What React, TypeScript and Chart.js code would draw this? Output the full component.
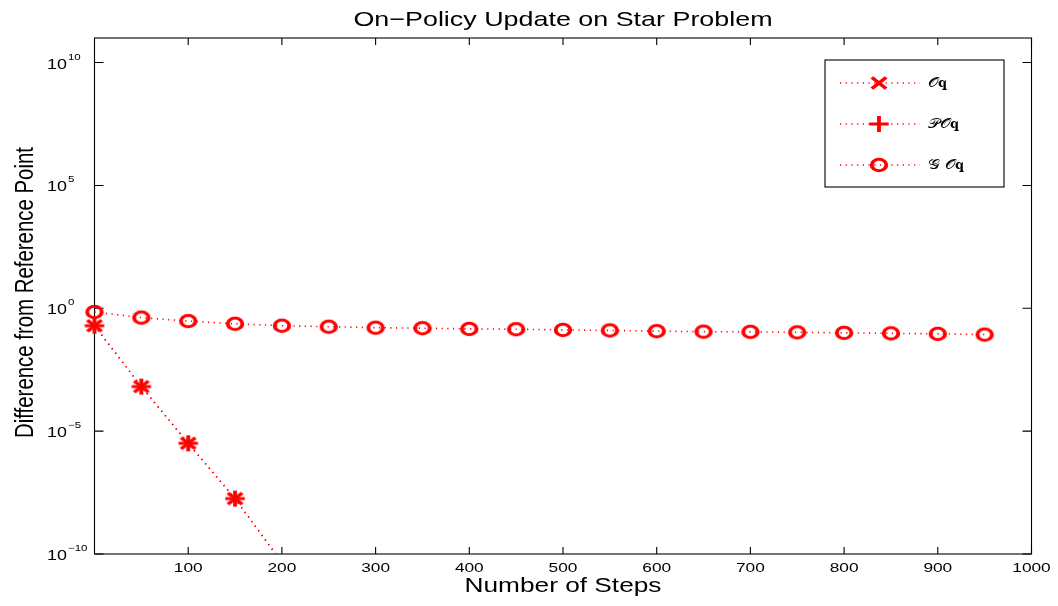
import React, { useEffect, useRef } from 'react';
import { Chart, registerables } from 'chart.js';

Chart.register(...registerables);

// ---------- data ----------
const steps = [0, 50, 100, 150, 200, 250, 300, 350, 400, 450, 500, 550, 600, 650, 700, 750, 800, 850, 900, 950];
const oqSteps = [0, 50, 100, 150, 200];
const oqValues = [0.195, 6.5e-4, 3.2e-6, 1.8e-8, 4.5e-11];
const poqValues = [0.195, 6.5e-4, 3.2e-6, 1.8e-8, 4.5e-11];
const goqValues = [0.708, 0.417, 0.302, 0.234, 0.195, 0.178, 0.162, 0.155, 0.145, 0.141, 0.132, 0.126, 0.117, 0.112, 0.11, 0.105, 0.1, 0.0955, 0.0912, 0.0851];
const seriesLabels = ['𝒪𝐪', '𝒫𝒪𝐪', '𝒢 𝒪𝐪'];
const chartTitle = 'On−Policy Update on Star Problem';
const xAxisTitle = 'Number of Steps';
const yAxisTitle = 'Difference from Reference Point';
const xTickValues = [100, 200, 300, 400, 500, 600, 700, 800, 900, 1000];
const xTickLabels = ['100', '200', '300', '400', '500', '600', '700', '800', '900', '1000'];
const yTickValues = [1e-10, 1e-5, 1, 1e5, 1e10];
const yTickExponents = ['−10', '−5', '0', '5', '10'];

const X_MIN = 0;
const X_MAX = 1000;
const Y_MIN = 1e-10;
const Y_MAX = 1e11;

// ---------- styling ----------
const RED = '#ff0000';
const SX = 1.28; // horizontal stretch of the reference rendering
const FONT = '"Liberation Sans", Arial, Helvetica, sans-serif';
const MATH_FONT = '"DejaVu Serif", "DejaVu Sans", serif';

type MarkerKind = 'circle' | 'x' | 'plus';

function makeMarker(kind: MarkerKind): HTMLCanvasElement {
  const c = document.createElement('canvas');
  c.width = 28;
  c.height = 22;
  const g = c.getContext('2d')!;
  g.translate(c.width / 2, c.height / 2);
  g.scale(SX, 1);
  g.strokeStyle = RED;
  g.lineWidth = 3;
  g.beginPath();
  if (kind === 'circle') {
    g.arc(0, 0, 5.7, 0, Math.PI * 2);
  } else if (kind === 'x') {
    const r = 5.6;
    g.moveTo(-r, -r);
    g.lineTo(r, r);
    g.moveTo(-r, r);
    g.lineTo(r, -r);
  } else {
    g.moveTo(-7.6, 0);
    g.lineTo(7.6, 0);
    g.moveTo(0, -7.9);
    g.lineTo(0, 7.9);
  }
  g.stroke();
  return c;
}

function stretchedText(
  ctx: CanvasRenderingContext2D,
  text: string,
  x: number,
  y: number,
  font: string,
  align: CanvasTextAlign,
  baseline: CanvasTextBaseline = 'alphabetic'
) {
  ctx.save();
  ctx.translate(x, y);
  ctx.scale(SX, 1);
  ctx.font = font;
  ctx.textAlign = align;
  ctx.textBaseline = baseline;
  ctx.fillStyle = '#000';
  ctx.fillText(text, 0, 0);
  ctx.restore();
}

const decorPlugin = {
  id: 'matlabDecor',
  beforeDatasetsDraw(chart: any) {
    const { ctx, chartArea } = chart;
    const { left, right, top, bottom } = chartArea;
    const xs = chart.scales.x;
    const ys = chart.scales.y;
    ctx.save();
    ctx.strokeStyle = '#000';
    ctx.lineWidth = 1.1;
    ctx.strokeRect(left, top, right - left, bottom - top);
    ctx.beginPath();
    xTickValues.forEach((v) => {
      const px = xs.getPixelForValue(v);
      ctx.moveTo(px, bottom);
      ctx.lineTo(px, bottom - 7);
      ctx.moveTo(px, top);
      ctx.lineTo(px, top + 7);
    });
    yTickValues.forEach((v) => {
      const py = ys.getPixelForValue(v);
      ctx.moveTo(left, py);
      ctx.lineTo(left + 9, py);
      ctx.moveTo(right, py);
      ctx.lineTo(right - 9, py);
    });
    ctx.stroke();
    ctx.restore();
  },
  afterDraw(chart: any) {
    const { ctx, chartArea } = chart;
    const { left, right, top, bottom } = chartArea;
    const xs = chart.scales.x;
    const ys = chart.scales.y;
    const cx = (left + right) / 2;
    const cy = (top + bottom) / 2;

    // title
    stretchedText(ctx, chartTitle, cx, top - 12, `21px ${FONT}`, 'center');
    // x tick labels
    xTickValues.forEach((v, i) => {
      stretchedText(ctx, xTickLabels[i], xs.getPixelForValue(v), bottom + 17.7, `13.5px ${FONT}`, 'center');
    });
    // x title
    stretchedText(ctx, xAxisTitle, cx, bottom + 38.3, `20.5px ${FONT}`, 'center');
    // y tick labels (10 with superscript exponent)
    yTickValues.forEach((v, i) => {
      const py = ys.getPixelForValue(v);
      const baseX = left - 47.5;
      ctx.save();
      ctx.font = `14px ${FONT}`;
      const w = ctx.measureText('10').width * SX;
      ctx.restore();
      stretchedText(ctx, '10', baseX, py + 6, `14px ${FONT}`, 'left');
      stretchedText(ctx, yTickExponents[i], baseX + w + 1, py - 3, `9px ${FONT}`, 'left');
    });
    // y title (rotated)
    ctx.save();
    ctx.translate(left - 61.5, cy - 3.5);
    ctx.scale(SX, 1);
    ctx.rotate(-Math.PI / 2);
    ctx.font = `20.4px ${FONT}`;
    ctx.textAlign = 'center';
    ctx.textBaseline = 'alphabetic';
    ctx.fillStyle = '#000';
    ctx.fillText(yAxisTitle, 0, 0);
    ctx.restore();

    // legend box
    const bw = 179;
    const bh = 127;
    const bx = right - 27.5 - bw;
    const by = top + 22;
    ctx.save();
    ctx.fillStyle = '#fff';
    ctx.fillRect(bx, by, bw, bh);
    ctx.strokeStyle = '#000';
    ctx.lineWidth = 1.1;
    ctx.strokeRect(bx, by, bw, bh);
    const rows = [23, 64, 105];
    chart.data.datasets.forEach((ds: any, i: number) => {
      const ry = by + rows[i];
      ctx.save();
      ctx.strokeStyle = ds.borderColor;
      ctx.lineWidth = ds.borderWidth;
      ctx.setLineDash(ds.borderDash);
      ctx.beginPath();
      ctx.moveTo(bx + 15, ry);
      ctx.lineTo(bx + 95, ry);
      ctx.stroke();
      ctx.restore();
      const img = ds.pointStyle as HTMLCanvasElement;
      ctx.drawImage(img, bx + 54 - img.width / 2, ry - img.height / 2);
      stretchedText(ctx, ds.label, bx + 103, ry + 4, `13px ${MATH_FONT}`, 'left');
    });
    ctx.restore();
  },
};

export default function App() {
  const canvasRef = useRef<HTMLCanvasElement | null>(null);

  useEffect(() => {
    if (!canvasRef.current) return;
    const xMarker = makeMarker('x');
    const plusMarker = makeMarker('plus');
    const circleMarker = makeMarker('circle');
    const lineClip = { left: false, top: false, right: false, bottom: 0 };

    const chart = new Chart(canvasRef.current, {
      type: 'line',
      data: {
        datasets: [
          {
            label: seriesLabels[0],
            data: oqSteps.map((s, i) => ({ x: s, y: oqValues[i] })),
            borderColor: RED,
            backgroundColor: RED,
            borderWidth: 1.6,
            borderDash: [1.2, 4.5],
            pointStyle: xMarker,
            pointRadius: 8,
            clip: lineClip as any,
          },
          {
            label: seriesLabels[1],
            data: oqSteps.map((s, i) => ({ x: s, y: poqValues[i] })),
            borderColor: RED,
            backgroundColor: RED,
            borderWidth: 1.6,
            borderDash: [1.2, 4.5],
            pointStyle: plusMarker,
            pointRadius: 8,
            clip: lineClip as any,
          },
          {
            label: seriesLabels[2],
            data: steps.map((s, i) => ({ x: s, y: goqValues[i] })),
            borderColor: RED,
            backgroundColor: RED,
            borderWidth: 1.6,
            borderDash: [1.2, 4.5],
            pointStyle: circleMarker,
            pointRadius: 8,
            clip: false as any,
          },
        ] as any,
      },
      options: {
        animation: false,
        responsive: false,
        layout: { padding: { left: 94.5, right: 26.5, top: 38, bottom: 52 } },
        scales: {
          x: { type: 'linear', min: X_MIN, max: X_MAX, display: false },
          y: { type: 'logarithmic', min: Y_MIN, max: Y_MAX, display: false },
        },
        plugins: {
          legend: { display: false },
          title: { display: false },
          tooltip: { enabled: false },
        },
        elements: { line: { tension: 0 } },
      },
      plugins: [decorPlugin],
    });
    return () => chart.destroy();
  }, []);

  return (
    <div style={{ position: 'absolute', left: 0, top: 0, width: 1058, height: 606, background: '#fff' }}>
      <canvas ref={canvasRef} width={1058} height={606} style={{ display: 'block' }} />
    </div>
  );
}
